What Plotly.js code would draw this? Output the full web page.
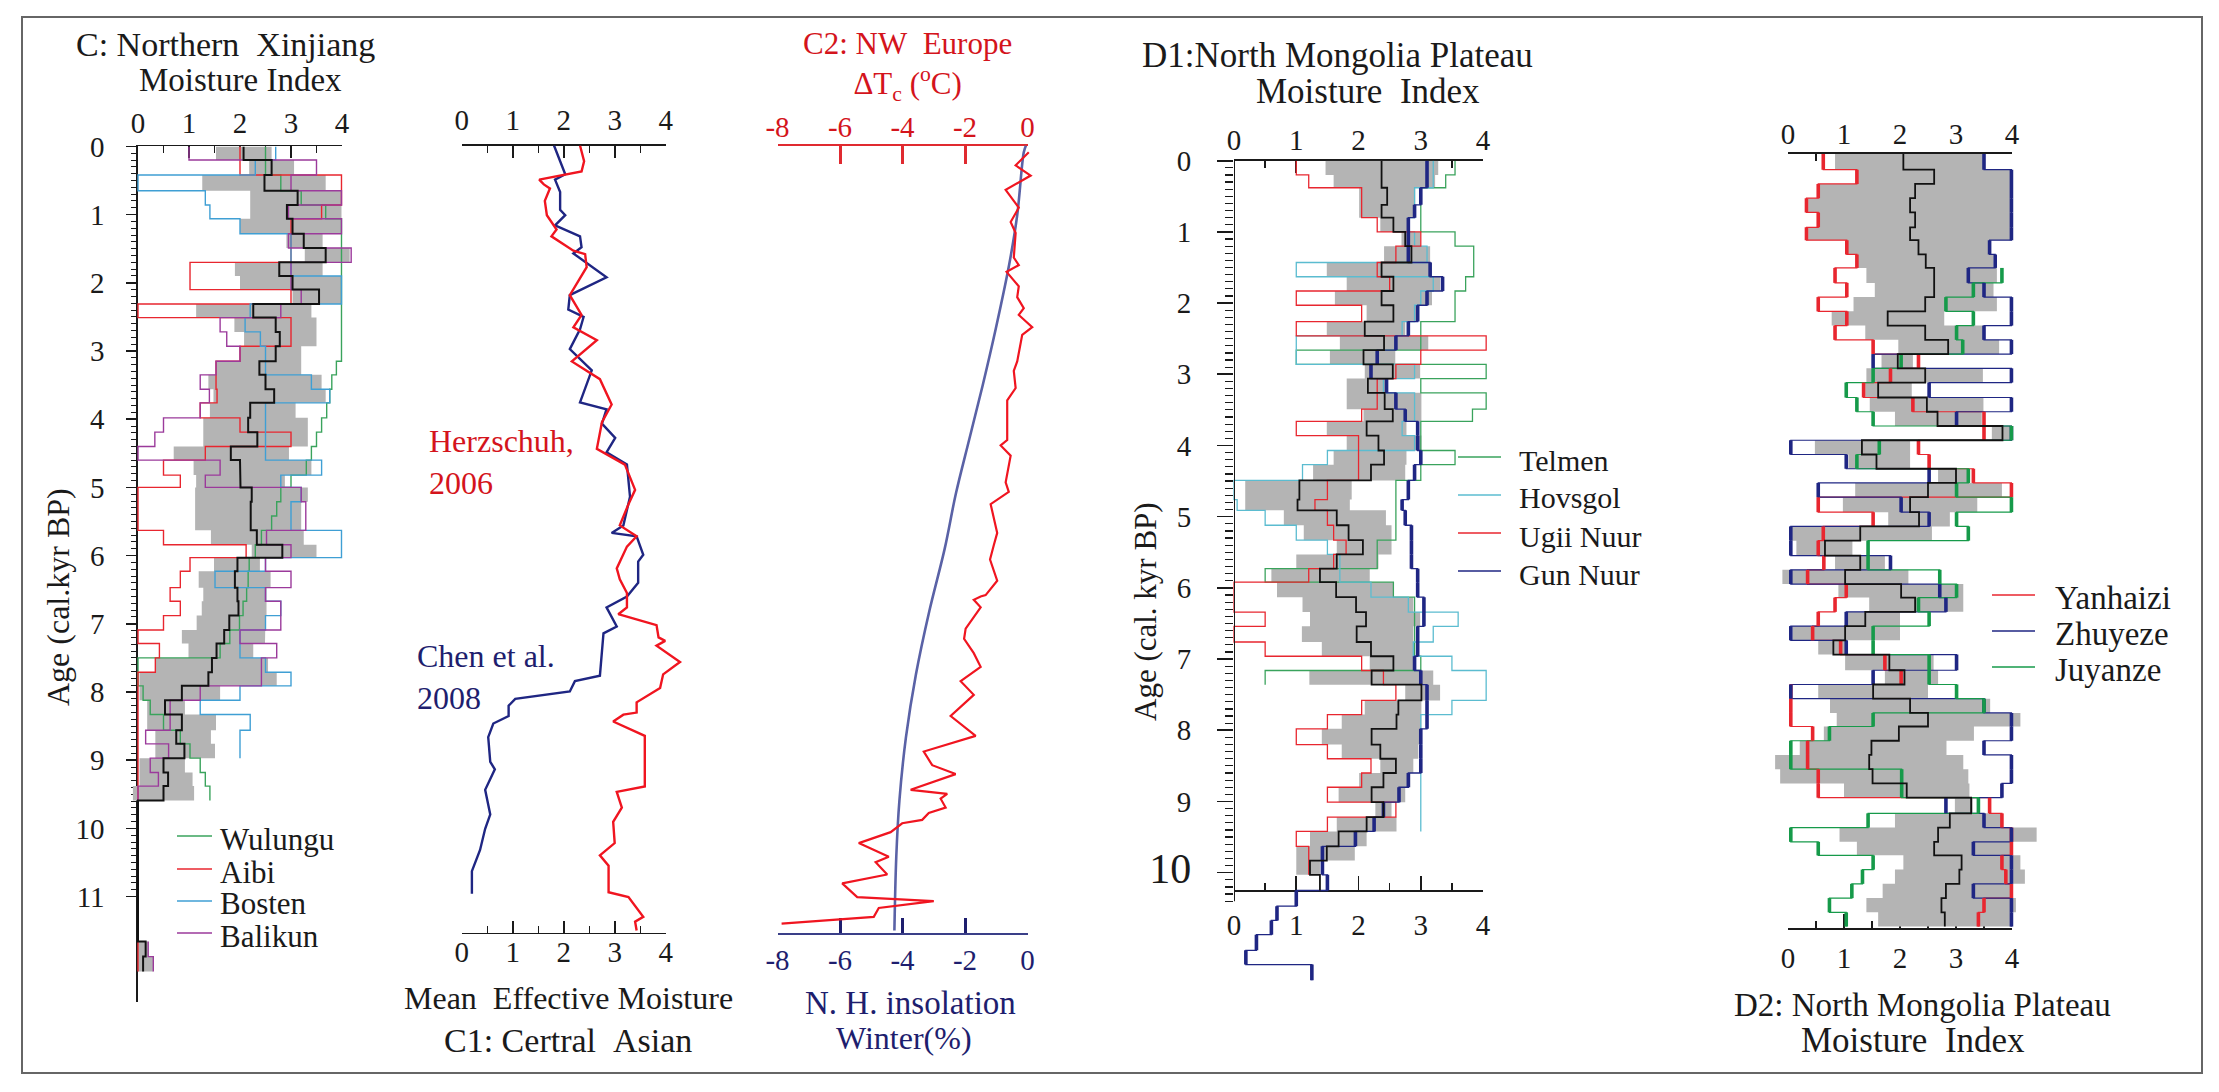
<!DOCTYPE html>
<html><head><meta charset="utf-8">
<script src="https://cdn.plot.ly/plotly-3.0.1.min.js"></script>
<style>html,body{margin:0;padding:0;background:#fff}#chart{width:2219px;height:1092px}</style>
</head><body><div id="chart"></div>
<script>
// ---------------- DATA ----------------
// Panel C : Northern Xinjiang moisture index (step series, ages in cal.kyr BP)
const C_age = [0,0.2,0.42,0.65,0.86,1.06,1.28,1.49,1.70,1.90,2.10,2.31,2.51,2.72,2.93,3.15,3.35,3.56,3.76,3.98,4.19,4.40,4.60,4.82,5.0,5.21,5.42,5.63,5.84,6.03,6.23,6.47,6.67,6.88,7.09,7.29,7.5,7.71,7.91,8.12,8.33,8.56,8.76,8.97,9.18,9.38,9.59,11.66,11.88,12.1];
const C_mean = [2.07,2.62,2.48,3.13,2.92,3.03,3.25,3.68,2.77,3.03,3.55,2.26,2.70,2.78,2.70,2.38,2.50,2.67,2.20,2.16,2.34,1.82,2.00,2.01,2.23,2.21,2.21,2.33,2.83,1.95,1.90,1.95,1.97,1.79,1.69,1.54,1.45,1.38,0.86,0.53,0.86,0.75,0.91,0.50,0.59,0.50,0,0.15,0.1];
const C_lo = [1.53,2.18,1.26,2.2,2.2,2.0,2.91,3.27,1.9,2.0,3.03,1.14,1.89,2.08,2.0,1.53,1.38,1.48,1.41,1.28,1.28,0.7,1.09,1.14,1.12,1.12,1.12,1.43,2.23,1.49,1.19,1.28,1.25,1.15,0.86,0.99,0.34,0.03,0.03,0.18,0.18,0.34,0.34,0.03,0.03,-0.1,null,0.0,0.0];
const C_hi = [2.62,3.06,3.68,3.99,3.99,3.99,3.62,4.15,3.62,3.99,3.99,3.4,3.5,3.5,3.2,3.2,3.6,3.68,3.09,3.33,3.33,2.96,3.4,2.88,3.33,3.2,3.2,3.25,3.5,2.39,2.6,2.52,2.52,2.5,2.49,2.26,2.55,2.72,1.61,0.92,1.53,1.43,1.51,0.92,1.07,1.1,null,0.2,0.3];
const C_wulungu = [2.5,2.5,2.8,3.2,3.68,3.99,3.99,3.99,3.99,3.99,3.99,3.99,3.99,3.99,3.99,3.89,3.8,3.76,3.7,3.6,3.5,3.4,3.3,3.0,2.8,2.72,2.62,2.42,2.3,2.18,2.16,2.13,2.06,1.99,1.8,1.61,0.0,0.0,0.1,0.24,0.5,0.83,1.02,1.22,1.32,1.41,null,null,null];
const C_aibi = [2.0,2.0,3.99,3.99,3.6,3.0,3.0,3.0,1.02,1.02,3.0,0.0,3.0,3.0,2.0,1.53,1.53,1.55,1.22,2.0,3.0,1.32,0.5,0.83,0.0,0.0,0.0,0.5,2.12,1.02,0.83,0.63,0.83,0.5,0.0,0.42,0.34,0.0,0.0,0.0,0.0,0.0,0.0,0.0,0.0,0.0,0,0,0];
const C_bosten = [2.7,2.3,0.0,1.32,1.41,2.0,3.0,3.0,3.0,3.99,3.99,2.2,2.1,2.4,2.5,2.5,3.4,3.76,2.5,2.5,2.5,2.5,3.6,2.8,3.2,3.0,3.0,3.99,3.99,2.5,1.51,2.5,2.8,2.5,2.0,2.0,2.5,3.0,2.0,1.22,2.2,2.0,2.0,null,null,null,null,null,null];
const C_balikun = [1.0,3.5,3.0,3.99,2.95,3.99,2.95,4.18,3.0,3.0,3.2,2.8,1.61,1.74,2.0,1.53,1.22,1.4,1.22,0.5,0.33,0.0,1.61,1.32,3.2,3.29,3.29,2.52,3.0,2.5,3.0,2.5,2.8,2.8,2.0,2.72,2.42,2.42,1.22,0.63,0.63,0.15,0.6,0.24,0.4,0.0,null,0.2,0.3];
const C_ageTicks = [0,1,2,3,4,5,6,7,8,9,10,11];

// Panel C1 : Central Asian mean effective moisture
const C1_herzschuh_val = [2.32,2.4,2.35,1.52,1.61,1.73,1.63,1.67,1.86,1.76,2.19,2.42,2.45,2.12,2.35,2.19,2.65,2.16,2.71,2.94,2.75,2.65,3.2,3.4,3.27,3.1,3.43,3.24,3.04,3.1,3.24,3.24,3.07,3.82,3.86,3.99,3.82,4.28,3.95,3.89,3.43,3.43,3.17,2.97,3.59,3.59,3.04,3.14,2.97,3.0,2.71,2.88,2.88,3.27,3.56,3.4,3.43];
const C1_herzschuh_age = [0,0.23,0.38,0.5,0.57,0.63,0.81,1.02,1.23,1.33,1.54,1.59,1.78,2.19,2.48,2.66,2.85,3.16,3.42,3.79,4.05,4.44,4.67,5.04,5.25,5.56,5.72,5.87,6.19,6.35,6.55,6.76,6.86,7.02,7.2,7.25,7.32,7.56,7.74,7.94,8.15,8.3,8.33,8.43,8.64,9.38,9.46,9.69,9.9,10.21,10.39,10.54,10.93,11.0,11.29,11.36,11.49];
const C1_chen_val = [1.81,1.93,2.03,1.83,1.93,1.93,2.03,1.83,2.32,2.35,2.19,2.84,2.12,2.09,2.39,2.32,2.12,2.55,2.32,2.84,2.75,3.01,2.84,3.24,3.3,3.17,2.94,3.43,3.56,3.46,3.46,3.24,2.84,3.04,2.78,2.71,2.22,2.12,1.05,0.92,0.92,0.62,0.52,0.56,0.65,0.46,0.56,0.46,0.36,0.2,0.2];
const C1_chen_age = [0,0.23,0.42,0.5,0.68,0.94,1.02,1.17,1.33,1.49,1.58,1.93,2.19,2.4,2.51,2.69,2.98,3.29,3.76,3.86,4.07,4.28,4.49,4.67,5.14,5.56,5.67,5.72,5.99,6.09,6.4,6.6,6.76,7.04,7.14,7.76,7.84,7.99,8.1,8.2,8.35,8.46,8.66,9.02,9.13,9.43,9.79,10.0,10.31,10.62,10.95];

// Panel C2 : NW Europe winter temperature anomaly and N.H. winter insolation
const C2_dTc_val = [0.04,-0.38,0.1,-0.7,-0.44,-0.28,-0.54,-0.38,-0.44,-0.28,-0.67,-0.28,-0.33,-0.12,-0.28,0.15,-0.17,-0.33,-0.44,-0.38,-0.65,-0.65,-0.86,-0.54,-0.7,-0.6,-1.18,-0.97,-1.08,-1.2,-0.97,-1.34,-1.5,-1.72,-1.5,-1.98,-2.03,-1.72,-1.5,-2.14,-1.72,-2.09,-2.46,-1.66,-3.32,-3.05,-2.3,-3.74,-2.57,-2.78,-2.62,-3.16,-3.37,-4.01,-4.38,-5.4,-4.44,-4.86,-4.49,-5.93,-5.45,-3.0,-4.76,-4.92,-7.87];
const C2_dTc_age = [0.1,0.29,0.44,0.65,0.81,0.91,1.12,1.28,1.64,1.75,1.85,2.06,2.22,2.38,2.48,2.66,2.77,3.16,3.3,3.55,3.73,4.31,4.39,4.54,4.93,5.07,5.25,5.67,5.85,6.06,6.37,6.58,6.6,6.65,6.76,7.07,7.22,7.43,7.63,7.84,8.04,8.2,8.35,8.64,8.87,9.07,9.2,9.43,9.49,9.56,9.69,9.77,9.87,9.92,10.05,10.21,10.41,10.49,10.67,10.8,11.0,11.06,11.16,11.29,11.39];
const C2_insol_val = [-0.05,-0.12,-0.33,-0.59,-1.02,-1.44,-1.87,-2.29,-2.65,-3.14,-3.57,-3.89,-4.1,-4.2,-4.26];
const C2_insol_age = [0,0.1,1.02,1.75,2.69,3.52,4.31,5.09,5.9,6.81,7.74,8.66,9.59,10.41,11.49];
const C2_ticks = [-8,-6,-4,-2,0];
const C2_tickText = ['-8','-6','-4','-2','0'];

// Panel D1 : North Mongolia Plateau moisture index
const D1_age = [0,0.2,0.38,0.62,0.8,1.0,1.2,1.43,1.63,1.83,2.03,2.26,2.46,2.66,2.86,3.06,3.26,3.49,3.66,3.86,4.07,4.27,4.49,4.76,4.91,5.12,5.33,5.53,5.73,5.92,6.13,6.34,6.54,6.76,6.96,7.16,7.36,7.58,7.78,7.98,8.2,8.4,8.6,8.8,9.01,9.22,9.42,9.63,9.83,10.03,10.25,10.47,10.67,10.87,11.09,11.29,11.51];
const D1_mean = [2.37,2.37,2.46,2.37,2.56,2.75,2.85,2.37,2.56,2.37,2.56,2.1,2.41,2.08,2.55,2.15,2.42,2.55,2.13,2.32,2.41,2.2,1.05,1.02,1.65,1.84,2.07,1.65,1.38,1.64,1.96,2.12,1.97,2.2,2.56,2.21,3.01,2.64,2.61,2.21,2.35,2.6,2.4,2.21,2.4,2.13,1.68,1.49,1.22,1.38];
const D1_lo = [1.47,1.6,2.01,2.01,2.35,2.69,2.41,1.49,1.81,1.62,2.13,1.49,1.7,1.54,2.1,1.81,1.81,2.08,1.49,1.81,1.6,1.27,0.18,0.18,0.8,1.12,1.65,1.0,0.6,0.69,1.1,1.22,1.09,1.41,2.18,1.21,2.75,2.1,1.73,1.41,1.73,2.35,2.01,1.68,2.27,1.65,1.22,1.0,1.0];
const D1_hi = [3.28,3.23,2.91,2.91,2.8,2.99,3.15,3.18,3.31,3.18,2.93,2.75,3.12,2.59,2.99,2.43,3.01,3.01,2.77,3.01,2.77,2.75,1.89,1.86,2.44,2.53,2.53,2.32,2.18,2.56,2.88,2.99,2.88,2.88,2.88,3.2,3.31,3.01,3.01,3.01,2.96,2.88,2.83,2.75,2.53,2.61,2.13,1.94,1.38];
const D1_telmen = [3.55,3.4,3.0,3.0,3.0,3.55,3.85,3.85,3.72,3.55,3.55,3.0,3.0,1.0,4.05,3.0,4.05,3.83,3.0,3.0,3.55,3.0,2.6,2.6,2.6,2.6,2.3,2.3,0.5,2.56,2.9,2.9,2.9,2.9,3.0,0.5];
const D1_hovsgol = [3.2,3.2,2.9,2.9,2.8,2.9,3.1,1.0,3.2,3.0,2.9,2.7,1.0,1.0,2.9,2.4,2.9,2.9,2.7,2.9,1.5,1.1,0.0,0.05,0.5,1.0,1.5,1.7,1.7,2.2,2.8,3.6,3.2,2.88,3.5,4.05,4.05,3.5,3.0,3.0,3.0,3.0,3.0,3.0,3.0,3.0];
const D1_ugii = [1.0,1.2,2.05,2.05,2.3,3.0,2.6,2.3,2.5,1.0,2.05,1.0,4.05,3.0,2.6,2.3,2.3,2.05,1.0,2.0,2.0,2.0,1.5,1.3,1.5,1.6,1.8,1.6,1.2,0.0,0.0,0.5,0.0,0.5,2.05,2.4,2.6,2.05,1.5,1.0,1.5,2.2,2.05,1.5,2.6,1.5,1.0,1.2,1.2];
const D1_gun = [3.1,3.1,3.0,2.9,2.8,2.8,2.8,3.15,3.35,3.1,2.95,2.8,2.6,2.3,2.2,2.45,2.6,2.75,2.95,2.95,3.0,2.9,2.8,2.7,2.75,2.85,2.85,2.85,2.95,2.95,3.05,3.05,2.95,2.95,2.9,3.0,3.1,3.1,3.1,3.0,3.0,3.0,2.8,2.65,2.4,2.25,1.95,1.42,1.42,1.5,1.0,0.69,0.6,0.36,0.19,1.25];
const D1_ageTicks = [0,1,2,3,4,5,6,7,8,9,10];
const D1_axisEnd = 10.4;

// Panel D2 : Yanhaizi / Zhuyeze / Juyanze moisture index
const D2_age = [0,0.22,0.42,0.62,0.82,1.03,1.21,1.41,1.6,1.81,2.01,2.21,2.41,2.61,2.81,3.01,3.21,3.42,3.62,3.82,4.02,4.22,4.42,4.62,4.82,5.03,5.23,5.43,5.64,5.84,6.04,6.23,6.43,6.63,6.83,7.03,7.25,7.45,7.65,7.85,8.04,8.24,8.44,8.64,8.84,9.04,9.26,9.46,9.66,9.85,10.05,10.25,10.45,10.65,10.85];
const D2_mean = [2.06,2.61,2.27,2.18,2.27,2.18,2.33,2.46,2.61,2.61,2.45,1.78,2.45,2.86,1.96,2.45,1.61,2.48,2.67,3.83,1.32,1.58,3.0,2.5,2.18,2.34,1.29,0.66,1.29,1.02,2.02,2.27,1.38,1.02,0.81,1.81,2.08,1.52,2.18,2.5,1.98,1.49,1.45,1.51,2.12,3.27,2.89,2.68,2.61,3.1,3.06,2.82,2.74,2.8];
const D2_lo = [0.84,1.23,0.54,0.36,0.54,0.36,1.05,1.23,1.4,1.55,1.17,0.78,1.38,1.97,1.67,1.4,1.38,1.46,1.91,3.64,0.48,1.08,2.68,1.2,0.98,1.79,0.04,0.15,0.84,-0.1,0.9,1.45,1.04,0.08,0.54,1.02,1.73,0.54,0.75,0.87,0.64,0.21,-0.23,-0.14,1.0,2.98,1.91,0.92,1.23,2.06,1.91,1.69,1.4,1.61];
const D2_hi = [3.48,3.99,3.99,3.99,3.99,3.99,3.6,3.67,3.73,3.67,3.73,2.79,3.49,3.77,2.23,3.48,2.21,3.49,3.46,3.99,2.18,2.18,3.24,3.82,3.38,2.89,2.57,1.15,1.73,2.15,3.13,3.13,2.0,2.0,1.05,2.6,2.68,2.5,3.61,4.15,3.32,2.83,3.13,3.22,3.24,3.3,3.82,4.44,3.99,4.15,4.23,3.99,4.07,3.99];
const D2_yanhaizi = [0.63,1.23,0.54,0.33,0.54,0.33,1.05,1.23,0.84,1.05,0.54,1.05,0.84,1.52,2.33,1.83,1.35,2.23,3.5,3.5,2.33,2.52,3.31,3.99,0.54,1.52,0.63,0.54,0.64,0.35,1.04,0.84,0.54,0.44,0.94,1.73,2.02,0.05,0.05,0.05,0.44,0.35,0.35,0.54,0.54,3.6,3.82,3.99,3.99,3.82,3.89,3.99,3.5,3.4];
const D2_zhuyeze = [3.5,3.99,3.99,3.99,3.99,3.99,3.6,3.7,3.22,3.5,3.99,3.99,3.5,3.99,1.52,3.99,2.52,3.99,3.01,3.99,0.05,1.04,2.52,0.54,2.02,2.52,0.05,0.05,1.83,0.05,2.71,2.82,1.04,0.05,1.04,3.01,1.52,0.05,3.5,3.99,3.99,3.5,3.99,3.99,3.82,2.82,3.5,3.99,3.31,3.99,3.99,3.31,3.99,3.99];
const D2_juyanze = [null,null,null,null,null,null,null,null,3.82,3.31,2.82,3.31,3.01,3.12,2.02,1.52,1.04,1.23,1.52,3.99,1.63,1.23,3.22,3.01,3.99,3.01,3.22,1.43,1.43,2.71,3.01,2.33,2.52,1.52,1.52,2.52,2.52,3.01,3.5,1.52,0.74,0.05,0.05,2.03,2.03,3.4,1.43,0.05,0.54,1.52,1.33,1.14,0.74,1.04];

const X_TICKS = [0,1,2,3,4];
const X_MINOR = [0.5,1.5,2.5,3.5];

// ---------------- STYLE ----------------
const W = 2219, H = 1092;
const FONT = 'Liberation Serif, Times New Roman, serif';
const INK = '#1a1a1a', GREY = '#b4b4b4';
const RED = '#e8262f', NAVY = '#1f2683', GREEN = '#3aa35c', DGREEN = '#169a4a',
      BLUE = '#3f9fd4', PURPLE = '#9b3a9b', CYAN = '#5bbcd0', TXTRED = '#d4141c', TXTNAVY = '#1e1e6e';
const fx = px => px / W;
const fy = py => 1 - py / H;

// ---------------- HELPERS ----------------
function stepXY(b, v) {
  const x = [], y = [];
  for (let i = 0; i < b.length - 1; i++) {
    const val = v[i];
    if (val === null || val === undefined) { x.push(null); y.push(null); continue; }
    x.push(val, val); y.push(b[i], b[i + 1]);
  }
  return {x, y};
}
function vertXY(b, v) {
  const x = [], y = [];
  for (let i = 0; i < b.length - 1; i++) {
    const val = v[i];
    if (val === null || val === undefined) continue;
    x.push(val, val, null); y.push(b[i], b[i + 1], null);
  }
  return {x, y};
}
function bandXY(b, lo, hi) {
  const x = [], y = [];
  let i = 0;
  while (i < lo.length) {
    if (lo[i] === null || lo[i] === undefined) { i++; continue; }
    let j = i;
    while (j < lo.length && lo[j] !== null && lo[j] !== undefined) j++;
    for (let k = i; k < j; k++) { x.push(hi[k], hi[k]); y.push(b[k], b[k + 1]); }
    for (let k = j - 1; k >= i; k--) { x.push(lo[k], lo[k]); y.push(b[k + 1], b[k]); }
    x.push(null); y.push(null);
    i = j;
  }
  return {x, y};
}
const traces = [];
function addBand(b, lo, hi, xa, ya) {
  const d = bandXY(b, lo, hi);
  traces.push({type:'scatter', mode:'lines', x:d.x, y:d.y, fill:'toself', fillcolor:GREY,
    line:{width:0, color:GREY}, xaxis:xa, yaxis:ya, hoverinfo:'skip', showlegend:false});
}
function addStep(b, v, name, color, width, xa, ya) {
  const d = stepXY(b, v);
  traces.push({type:'scatter', mode:'lines', name, x:d.x, y:d.y, line:{color, width},
    xaxis:xa, yaxis:ya, hoverinfo:'skip', showlegend:false});
}
function addVert(b, v, color, width, xa, ya) {
  const d = vertXY(b, v);
  traces.push({type:'scatter', mode:'lines', x:d.x, y:d.y, line:{color, width},
    xaxis:xa, yaxis:ya, hoverinfo:'skip', showlegend:false});
}
function addLine(x, y, name, color, width, xa, ya, shape) {
  traces.push({type:'scatter', mode:'lines', name, x, y, line:{color, width, shape:shape||'linear'},
    xaxis:xa, yaxis:ya, hoverinfo:'skip', showlegend:false});
}
function frameTrace(xa, ya) {
  traces.push({type:'scatter', mode:'lines', x:[null], y:[null], xaxis:xa, yaxis:ya, hoverinfo:'skip', showlegend:false});
}

// ---------------- TRACES ----------------
// C
const C_series = [
  {name:'Wulungu', v:C_wulungu, color:GREEN},
  {name:'Aibi', v:C_aibi, color:RED},
  {name:'Bosten', v:C_bosten, color:BLUE},
  {name:'Balikun', v:C_balikun, color:PURPLE}];
addBand(C_age, C_lo, C_hi, 'x10', 'y10');
C_series.forEach(s => addStep(C_age, s.v, s.name, s.color, 1.4, 'x10', 'y10'));
addStep(C_age, C_mean, 'Mean', '#111', 2, 'x10', 'y10');
// C1
addLine(C1_chen_val, C1_chen_age, 'Chen et al. 2008', NAVY, 2.4, 'x11', 'y11');
addLine(C1_herzschuh_val, C1_herzschuh_age, 'Herzschuh, 2006', '#f01520', 2.4, 'x11', 'y11');
// C2
addLine(C2_insol_val, C2_insol_age, 'N. H. insolation Winter', '#5a62a6', 2.6, 'x12', 'y12', 'spline');
addLine(C2_dTc_val, C2_dTc_age, 'NW Europe ΔTc', '#f01520', 2.2, 'x12', 'y12');
// D1
const D1_series = [
  {name:'Telmen', v:D1_telmen, color:GREEN},
  {name:'Hovsgol', v:D1_hovsgol, color:CYAN},
  {name:'Ugii Nuur', v:D1_ugii, color:RED},
  {name:'Gun Nuur', v:D1_gun, color:NAVY}];
addBand(D1_age, D1_lo, D1_hi, 'x13', 'y13');
D1_series.forEach(s => addStep(D1_age, s.v, s.name, s.color, 1.3, 'x13', 'y13'));
addVert(D1_age, D1_gun, NAVY, 3.6, 'x13', 'y13');
addStep(D1_age, D1_mean, 'Mean', '#111', 1.8, 'x13', 'y13');
// D2
const D2_series = [
  {name:'Yanhaizi', v:D2_yanhaizi, color:RED},
  {name:'Zhuyeze', v:D2_zhuyeze, color:NAVY},
  {name:'Juyanze', v:D2_juyanze, color:DGREEN}];
addBand(D2_age, D2_lo, D2_hi, 'x14', 'y14');
D2_series.forEach(s => addStep(D2_age, s.v, s.name, s.color, 1.2, 'x14', 'y14'));
D2_series.forEach(s => addVert(D2_age, s.v, s.color, 3.6, 'x14', 'y14'));
addStep(D2_age, D2_mean, 'Mean', '#111', 1.8, 'x14', 'y14');
// frame axes subplots
[['x','y'],['x2','y2'],['x3','y2'],['x4','y3'],['x5','y3'],['x6','y4'],['x7','y4'],['x8','y5'],['x9','y5']]
  .forEach(p => frameTrace(p[0], p[1]));

// ---------------- AXES ----------------
function minorVals(maxTenths) {
  const out = [];
  for (let t = 1; t <= maxTenths; t++) if (t % 10 !== 0) out.push(t / 10);
  return out;
}
function visX(extra) {
  return Object.assign({range:[0,4], tickvals:X_TICKS, ticks:'inside', ticklen:12, tickwidth:1.6, tickcolor:INK,
    showline:true, linecolor:INK, linewidth:1.6, tickfont:{size:29, color:INK, family:FONT},
    minor:{tickvals:X_MINOR, ticks:'inside', ticklen:7, tickwidth:1.3, tickcolor:INK, showgrid:false},
    showgrid:false, zeroline:false, fixedrange:true, ticklabelstandoff:0}, extra);
}
function hid(domain, range, anchor) {
  return {domain, range, anchor, visible:false, showgrid:false, zeroline:false, fixedrange:true};
}
const C_y = [fy(1002.3), fy(146.4)];
const C1_y = [fy(932.6), fy(145.5)];
const D1_y = [fy(986.6), fy(160.7)];
const D2_y = [fy(928), fy(154)];

const layout = {
  width: W, height: H, margin:{l:0, r:0, t:0, b:0, pad:0},
  paper_bgcolor:'#ffffff', plot_bgcolor:'rgba(0,0,0,0)', showlegend:false,
  font:{family:FONT, color:INK},
  // C frame
  xaxis: visX({domain:[fx(138), fx(342)], anchor:'y', side:'top', ticklabelstandoff:0}),
  yaxis: {domain:C_y, range:[12.55, 0], anchor:'x', showline:true, linecolor:INK, linewidth:1.6,
    ticks:'outside', ticklen:10, tickwidth:1.6, tickcolor:INK, tickvals:C_ageTicks,
    tickfont:{size:29, color:INK, family:FONT}, ticklabelstandoff:16,
    minor:{tickvals:minorVals(110), ticks:'outside', ticklen:5, tickwidth:1, tickcolor:INK, showgrid:false},
    showgrid:false, zeroline:false, fixedrange:true},
  // C1 frame
  xaxis2: visX({domain:[fx(461.7), fx(665.7)], anchor:'y2', side:'top', ticklabelstandoff:2}),
  xaxis3: visX({overlaying:'x2', anchor:'y2', side:'bottom', ticklabelstandoff:-7}),
  yaxis2: hid(C1_y, [11.52, 0], 'x2'),
  // C2 frame
  xaxis4: visX({domain:[fx(777.5), fx(1027.5)], anchor:'y3', side:'top', range:[-8,0], tickvals:C2_ticks, ticktext:C2_tickText,
    linecolor:'#e02a30', linewidth:1.2, tickcolor:'#e02a30', ticklen:18, tickwidth:3,
    tickfont:{size:29, color:TXTRED, family:FONT}, minor:{tickvals:[], ticks:''}, ticklabelstandoff:-4}),
  xaxis5: visX({overlaying:'x4', anchor:'y3', side:'bottom', range:[-8,0], tickvals:C2_ticks, ticktext:C2_tickText,
    linecolor:'#3a3f88', linewidth:2, tickcolor:TXTNAVY, ticklen:15, tickwidth:3,
    tickfont:{size:29, color:TXTNAVY, family:FONT}, minor:{tickvals:[], ticks:''}, ticklabelstandoff:1}),
  yaxis3: hid(C1_y, [11.52, 0], 'x4'),
  // D1 frame
  xaxis6: visX({domain:[fx(1234), fx(1483)], anchor:'y4', side:'top', ticklabelstandoff:-2}),
  xaxis7: visX({overlaying:'x6', anchor:'free', position:fy(890.4), side:'bottom', ticklen:14, ticklabelstandoff:8}),
  yaxis4: {domain:D1_y, range:[11.6, 0], anchor:'x6', showline:false,
    ticks:'outside', ticklen:16, tickwidth:1.6, tickcolor:INK, tickvals:D1_ageTicks,
    ticktext:D1_ageTicks.map(v => v === 10 ? '<span style="font-size:42px">10</span>' : String(v)),
    tickfont:{size:29, color:INK, family:FONT}, ticklabelstandoff:20,
    minor:{tickvals:minorVals(104), ticks:'outside', ticklen:8, tickwidth:1.2, tickcolor:INK, showgrid:false},
    showgrid:false, zeroline:false, fixedrange:true},
  // D2 frame
  xaxis8: visX({domain:[fx(1788), fx(2012)], anchor:'y5', side:'top', ticklabelstandoff:-3}),
  xaxis9: visX({overlaying:'x8', anchor:'y5', side:'bottom', ticklen:14, ticklabelstandoff:4}),
  yaxis5: hid(D2_y, [10.87, 0], 'x8'),
  // data subplots
  xaxis10: hid([fx(127.8), fx(357.3)], [-0.2, 4.3], 'y10'),
  yaxis10: hid(C_y, [12.55, 0], 'x10'),
  xaxis11: hid([fx(461.7), fx(686.1)], [0, 4.4], 'y11'),
  yaxis11: hid(C1_y, [11.52, 0], 'x11'),
  xaxis12: hid([fx(774.4), fx(1036.9)], [-8.1, 0.3], 'y12'),
  yaxis12: hid(C1_y, [11.52, 0], 'x12'),
  xaxis13: hid([fx(1227.8), fx(1495.5)], [-0.1, 4.2], 'y13'),
  yaxis13: hid(D1_y, [11.6, 0], 'x13'),
  xaxis14: hid([fx(1768.4), fx(2042.8)], [-0.35, 4.55], 'y14'),
  yaxis14: hid(D2_y, [10.87, 0], 'x14'),
  shapes: [
    {type:'rect', xref:'paper', yref:'paper', x0:fx(22), x1:fx(2202), y0:fy(1073), y1:fy(17),
      line:{color:'#666', width:2}, fillcolor:'rgba(0,0,0,0)', layer:'below'},
    {type:'line', xref:'x6', yref:'y4', x0:0, x1:0, y0:0, y1:D1_axisEnd, line:{color:INK, width:2}}
  ],
  annotations: []
};

function ann(text, px, py, opts) {
  layout.annotations.push(Object.assign({text, xref:'paper', yref:'paper', x:fx(px), y:fy(py),
    xanchor:'center', yanchor:'middle', showarrow:false, font:{family:FONT, size:32, color:INK}}, opts||{}));
}
const F = (size, color) => ({family:FONT, size, color:color||INK});
// titles
ann('C:\u00a0Northern\u00a0\u00a0Xinjiang', 225, 45, {font:F(34)});
ann('Moisture Index', 240, 80, {font:F(33)});
ann('Mean\u00a0\u00a0Effective Moisture', 568, 998, {font:F(32)});
ann('C1:\u00a0Certral\u00a0\u00a0Asian', 568, 1040, {font:F(34)});
ann('C2:\u00a0NW\u00a0\u00a0Europe<br>ΔT<sub>c</sub> (<sup>o</sup>C)', 907, 108,
    {yanchor:'bottom', font:F(31, TXTRED)});
ann('N.\u00a0H.\u00a0insolation', 910, 1003, {font:F(33, TXTNAVY)});
ann('Winter(%)', 904, 1038, {font:F(32, TXTNAVY)});
ann('D1:North Mongolia Plateau', 1337, 55, {font:F(35)});
ann('Moisture\u00a0\u00a0Index', 1368, 91, {font:F(35)});
ann('D2:\u00a0North Mongolia Plateau', 1922, 1005, {font:F(33)});
ann('Moisture\u00a0\u00a0Index', 1913, 1040, {font:F(35)});
ann('Age (cal.kyr BP)', 58, 597, {textangle:-90, font:F(32)});
ann('Age (cal. kyr BP)', 1145, 612, {textangle:-90, font:F(31)});
ann('Herzschuh,<br>2006', 427, 462, {xanchor:'left', align:'left', font:F(32, TXTRED)});
ann('Chen et al.<br>2008', 415, 677, {xanchor:'left', align:'left', font:F(32, TXTNAVY)});

// legends (sample line + label)
function legend(series, lx0, lx1, tx, ys, size) {
  series.forEach((s, i) => {
    layout.shapes.push({type:'line', xref:'paper', yref:'paper', x0:fx(lx0), x1:fx(lx1), y0:fy(ys[i]), y1:fy(ys[i]),
      line:{color:s.color, width:1.4}});
    ann(s.name, tx, ys[i] + 3, {xanchor:'left', font:F(size)});
  });
}
legend(C_series, 177, 212, 218, [836, 869, 901, 933], 31);
legend(D1_series, 1458, 1501, 1517, [457, 495, 533, 571], 30);
legend(D2_series, 1992, 2035, 2053, [595, 631, 667], 33);

Plotly.newPlot('chart', traces, layout, {staticPlot:true, displayModeBar:false});
</script></body></html>
